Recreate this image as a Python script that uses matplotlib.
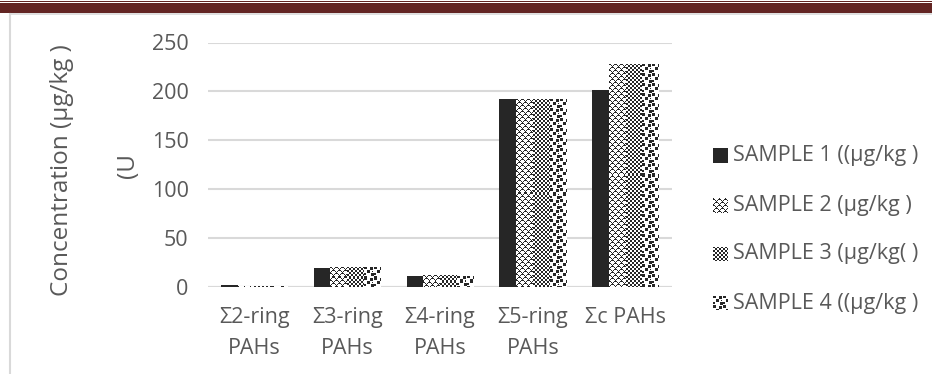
import numpy as np
import matplotlib
matplotlib.use("Agg")
import matplotlib.pyplot as plt
from matplotlib.colors import ListedColormap
from matplotlib.patches import Rectangle

# ---- data ----
categories = ["Σ2-ring\nPAHs", "Σ3-ring\nPAHs", "Σ4-ring\nPAHs", "Σ5-ring\nPAHs", "Σc PAHs"]
series_names = ["SAMPLE 1 ((µg/kg )", "SAMPLE 2 (µg/kg )", "SAMPLE 3 (µg/kg( )", "SAMPLE 4 ((µg/kg )"]
sample1 = [2, 19.5, 11.5, 192, 202]
sample2 = [1.5, 20.5, 12.5, 192, 228]
sample3 = [1.5, 20.5, 12.5, 192, 228]
sample4 = [1.5, 20.5, 11.5, 192, 228]
y_ticks = [0, 50, 100, 150, 200, 250]
y_label = "Concentration (µg/kg )"
y_label2 = "(U"

series = [sample1, sample2, sample3, sample4]

# ---- figure geometry (pixels) ----
W, H, DPI = 932, 374, 100
FONT = "Open Sans"
TEXT = "#595959"
GRID = "#d9d9d9"
INK = "#262626"
FS = 15.5

plt.rcParams["font.family"] = [FONT, "DejaVu Sans"]

fig = plt.figure(figsize=(W / DPI, H / DPI), dpi=DPI)


def fx(px):
    return px / W


def fy(py):
    return 1 - py / H


ax_l, ax_r, ax_t, ax_b = 208, 672, 42.5, 287.3
ax = fig.add_axes([fx(ax_l), fy(ax_b), fx(ax_r - ax_l), (ax_b - ax_t) / H])


# ---- fill patterns (bitmaps, 1 = ink) ----
def lattice(n=6):
    i, j = np.mgrid[0:n, 0:n]
    return (((i + j) % n == 0) | ((i - j) % n == 0) |
            ((i + j) % n == 1) & ((i - j) % n == 1)).astype(int)


def checker(cell=2):
    i, j = np.mgrid[0:2 * cell, 0:2 * cell]
    return ((i // cell + j // cell) % 2 == 0).astype(int)


def confetti():
    t = np.zeros((10, 10), int)
    for r, c, s in [(0, 0, 3), (1, 6, 3), (4, 3, 3), (7, 7, 3), (7, 0, 2), (5, 8, 1)]:
        t[r:r + s, c:c + s] = 1
    return t


tiles = [np.ones((2, 2), int), lattice(6), checker(2), confetti()]

cmap = ListedColormap(["white", INK])


def texture(tile, h, w):
    h, w = max(int(round(h)), 1), max(int(round(w)), 1)
    reps = (h // tile.shape[0] + 1, w // tile.shape[1] + 1)
    return np.tile(tile, reps)[:h, :w]


# ---- axes styling ----
ax.set_yticks(y_ticks)
ax.set_yticklabels([str(t) for t in y_ticks])
ax.set_xticks(range(len(categories)))
ax.set_xticklabels(categories, linespacing=1.65)
for s in ax.spines.values():
    s.set_visible(False)
ax.tick_params(axis="both", length=0, labelsize=FS, labelcolor=TEXT)
ax.tick_params(axis="y", pad=14)
ax.tick_params(axis="x", pad=14)
ax.yaxis.grid(True, color=GRID, linewidth=1.5)
ax.set_axisbelow(True)
ax.axhline(0, color=GRID, linewidth=1.5, zorder=1)

# ---- bars with bitmap fills ----
bw = 0.18
x = np.arange(len(categories))
px_per_x = (ax_r - ax_l) / len(categories)
px_per_y = (ax_b - ax_t) / 250
for k, (vals, tile) in enumerate(zip(series, tiles)):
    bars = ax.bar(x + (k - 1.5) * bw, vals, width=bw, color="white",
                  edgecolor="none", zorder=2)
    for b in bars:
        x0, w, h = b.get_x(), b.get_width(), b.get_height()
        img = texture(tile, h * px_per_y, w * px_per_x)
        im = ax.imshow(img, cmap=cmap, vmin=0, vmax=1, interpolation="nearest",
                       extent=(x0, x0 + w, 0, h), origin="upper", aspect="auto",
                       zorder=3)
        im.set_clip_path(b)
ax.set_xlim(-0.5, len(categories) - 0.5)
ax.set_ylim(0, 250)

# ---- y axis title ----
fig.text(fx(62), fy(170), y_label, rotation=90, ha="center", va="center",
         fontsize=17.5, color=TEXT)
fig.text(fx(128), fy(166), y_label2, rotation=90, ha="center", va="center",
         fontsize=17.5, color=TEXT)

# ---- legend ----
leg_rows = [155, 205, 254, 303]
for name, tile, yc in zip(series_names, tiles, leg_rows):
    sw = 15
    lax = fig.add_axes([fx(713), fy(yc + sw / 2), fx(sw), sw / H])
    lax.imshow(texture(tile, sw, sw), cmap=cmap, vmin=0, vmax=1,
               interpolation="nearest", aspect="auto")
    lax.axis("off")
    fig.text(fx(733), fy(yc), name, ha="left", va="center", fontsize=FS,
             color=TEXT)

# ---- page frame ----
band = "#632523"
fig.add_artist(Rectangle((0, fy(12.7)), 1, (12.7 - 3.3) / H,
                         transform=fig.transFigure, color=band, lw=0))
fig.add_artist(Rectangle((0, fy(2.3)), 1, 1.2 / H,
                         transform=fig.transFigure, color=band, lw=0))
fig.add_artist(plt.Line2D([fx(10), 1], [fy(13.8), fy(13.8)],
                          transform=fig.transFigure, color=GRID, lw=1.2))
fig.add_artist(plt.Line2D([fx(10), fx(10)], [fy(13.8), 0],
                          transform=fig.transFigure, color=GRID, lw=1.5))

fig.savefig("out.png", dpi=DPI)
